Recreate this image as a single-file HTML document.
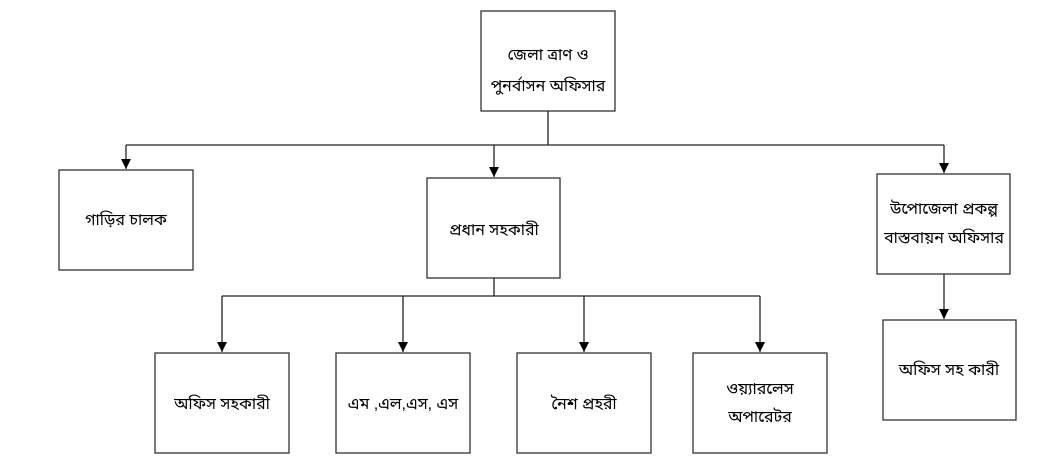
<!DOCTYPE html>
<html><head><meta charset="utf-8"><style>
html,body{margin:0;padding:0;background:#fff;width:1052px;height:475px;overflow:hidden}
svg text{font-family:"Liberation Sans","Noto Sans Bengali","Lohit Bengali",sans-serif;font-size:16px;fill:#000}
</style></head><body>
<svg width="1052" height="475" viewBox="0 0 1052 475" xmlns="http://www.w3.org/2000/svg">
<defs><marker id="a" markerWidth="12" markerHeight="12" refX="10" refY="5" orient="auto" markerUnits="userSpaceOnUse"><path d="M0,0 L10,5 L0,10 Z" fill="#000"/></marker></defs>
<g fill="#fff" stroke="#333" stroke-width="1.3">
<rect x="481" y="11" width="134" height="100"/>
<rect x="59" y="170" width="134" height="100"/>
<rect x="427" y="178" width="133" height="100"/>
<rect x="877" y="174" width="133" height="100"/>
<rect x="883" y="320" width="133" height="100"/>
<rect x="155" y="353" width="134" height="100"/>
<rect x="336" y="353" width="134" height="100"/>
<rect x="517" y="353" width="134" height="100"/>
<rect x="693" y="353" width="134" height="100"/>
</g>
<g stroke="#222" stroke-width="1.3" fill="none">
<path d="M548,111 V145 M126,145 H944"/>
<path d="M126,145 V169" marker-end="url(#a)"/>
<path d="M494,145 V177" marker-end="url(#a)"/>
<path d="M944,145 V173" marker-end="url(#a)"/>
<path d="M494,278 V296 M222,296 H760"/>
<path d="M222,296 V352" marker-end="url(#a)"/>
<path d="M403,296 V352" marker-end="url(#a)"/>
<path d="M584,296 V352" marker-end="url(#a)"/>
<path d="M760,296 V352" marker-end="url(#a)"/>
<path d="M944,274 V319" marker-end="url(#a)"/>
</g>
<g text-anchor="middle">
<text x="548" y="60">জেলা ত্রাণ ও</text>
<text x="548" y="91">পুনর্বাসন অফিসার</text>
<text x="126" y="225">গাড়ির চালক</text>
<text x="494" y="235">প্রধান সহকারী</text>
<text x="944" y="214">উপোজেলা প্রকল্প</text>
<text x="944" y="243">বাস্তবায়ন অফিসার</text>
<text x="949" y="375">অফিস সহ কারী</text>
<text x="222" y="409">অফিস সহকারী</text>
<text x="403" y="409">এম ,এল,এস, এস</text>
<text x="584" y="409">নৈশ প্রহরী</text>
<text x="760" y="394">ওয়্যারলেস</text>
<text x="760" y="422">অপারেটর</text>
</g>
</svg>
</body></html>
